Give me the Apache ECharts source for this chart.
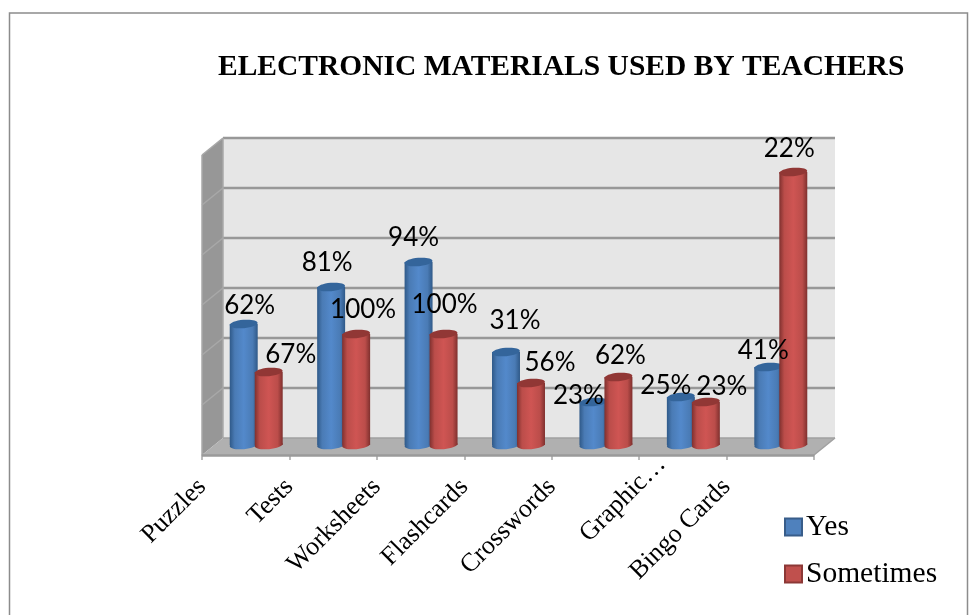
<!DOCTYPE html>
<html>
<head>
<meta charset="utf-8">
<style>html,body{margin:0;padding:0;background:#fff}#chart{width:970px;height:615px}</style>
<script src="https://cdn.jsdelivr.net/npm/echarts@6/dist/echarts.min.js"></script>
</head>
<body>
<div id="chart"></div>
<script>
// Survey counts and the share labels printed above each cylinder
const categories = ['Puzzles', 'Tests', 'Worksheets', 'Flashcards', 'Crosswords', 'Graphic…', 'Bingo Cards'];
const yesValues = [12.1, 15.8, 18.3, 9.3, 4.3, 4.8, 7.8];
const sometimesValues = [7.3, 11.1, 11.1, 6.2, 6.8, 4.3, 27.3];
const yesShares = ['62%', '81%', '94%', '31%', '23%', '25%', '41%'];
const sometimesShares = ['67%', '100%', '100%', '56%', '62%', '23%', '22%'];
const axisTickLabels = categories.concat(['']);

// Hand-placed label nudges, relative to each cylinder's top centre
const yesNudge = [[6, -18], [-4, -24], [-5, -24], [9, -31], [-15, -6], [-15, -11], [-5, -16]];
const sometimesNudge = [[22, -17], [7, -24], [1, -29], [19, -20], [2, -21], [16, -15], [-4, -23]];

// Oblique projection of the chart box
const WALL_DX = 21, WALL_DY = -17;
const BAR_DX = 10.5, BAR_DY = -10;
const VALUE_MAX = 30, VALUE_STEP = 5;

function cylinderGradient(edge, mid, light) {
  return {
    type: 'linear', x: 0, y: 0, x2: 1, y2: 0,
    colorStops: [
      { offset: 0, color: edge }, { offset: 0.18, color: mid },
      { offset: 0.5, color: light }, { offset: 0.82, color: mid }, { offset: 1, color: edge }
    ]
  };
}

function cylinder(shift, palette, nudges, shares) {
  return function (params, api) {
    const i = api.value(0);
    const band = api.size([1, 0])[0];
    const width = band * 0.32;
    const base = api.coord([i, 0]);
    const top = api.coord([i, api.value(1)]);
    const cx = base[0] + BAR_DX + shift * band;
    const by = base[1] + BAR_DY;
    const ty = top[1] + BAR_DY;
    const ry = 4.2, tilt = -0.09;
    const body = cylinderGradient(palette.edge, palette.mid, palette.light);
    return {
      type: 'group',
      children: [
        { type: 'ellipse', rotation: -tilt, x: cx, y: by,
          shape: { cx: 0, cy: 0, rx: width / 2, ry: ry }, style: { fill: body } },
        { type: 'rect', shape: { x: cx - width / 2, y: ty, width: width, height: by - ty }, style: { fill: body } },
        { type: 'ellipse', rotation: -tilt, x: cx, y: ty,
          shape: { cx: 0, cy: 0, rx: width / 2, ry: ry }, style: { fill: palette.cap } },
        { type: 'text', z2: 100, x: cx + nudges[i][0], y: ty + nudges[i][1],
          style: { text: shares[i], fill: '#000', font: '26px Lato', align: 'center', verticalAlign: 'middle' } }
      ]
    };
  };
}

// Back wall, side wall, floor and their gridlines
function renderBox(params, api) {
  const sys = params.coordSys;
  const left = sys.x, right = sys.x + sys.width;
  const bottom = api.coord([0, 0])[1], top = api.coord([0, VALUE_MAX])[1];
  const poly = (points, fill) => ({ type: 'polygon', shape: { points }, style: { fill } });
  const line = (x1, y1, x2, y2, stroke, lineWidth) => ({
    type: 'line', shape: { x1, y1, x2, y2 }, style: { stroke, lineWidth }
  });
  const children = [
    poly([[left + WALL_DX, top + WALL_DY], [right + WALL_DX, top + WALL_DY], [right + WALL_DX, bottom + WALL_DY], [left + WALL_DX, bottom + WALL_DY]], '#e6e6e6'),
    poly([[left, top], [left + WALL_DX, top + WALL_DY], [left + WALL_DX, bottom + WALL_DY], [left, bottom]], '#979797'),
    poly([[left, bottom], [left + WALL_DX, bottom + WALL_DY], [right + WALL_DX, bottom + WALL_DY], [right, bottom]], '#b0b0b0')
  ];
  for (let v = VALUE_STEP; v <= VALUE_MAX; v += VALUE_STEP) {
    const y = api.coord([0, v])[1];
    children.push(line(left + WALL_DX, y + WALL_DY, right + WALL_DX, y + WALL_DY, '#989898', 2.5));
    children.push(line(left, y, left + WALL_DX, y + WALL_DY, '#a8a8a8', 1.5));
  }
  children.push(line(left + WALL_DX, bottom + WALL_DY, right + WALL_DX, bottom + WALL_DY, '#a0a0a0', 1.5));
  children.push(line(left + WALL_DX, top + WALL_DY, left + WALL_DX, bottom + WALL_DY, '#a8a8a8', 1.5));
  children.push(line(right, bottom, right + WALL_DX, bottom + WALL_DY, '#a0a0a0', 1.5));
  children.push(line(left, top, left, bottom, '#a8a8a8', 1.5));
  children.push(line(left, bottom + 0.5, right, bottom + 0.5, '#9a9a9a', 2.5));
  return { type: 'group', children };
}

const BLUE = { edge: '#2f5988', mid: '#4a7bb5', light: '#5389cb', cap: '#34659b' };
const RED = { edge: '#7f302e', mid: '#bb4d4a', light: '#cf5553', cap: '#913735' };

const chart = echarts.init(document.getElementById('chart'), null, { renderer: 'canvas' });
chart.setOption({
  animation: false,
  backgroundColor: '#fff',
  title: {
    text: 'ELECTRONIC MATERIALS USED BY TEACHERS',
    left: 213, top: 47,
    textStyle: { fontFamily: 'Liberation Serif', fontWeight: 'bold', fontSize: 29.5, color: '#000' }
  },
  graphic: [{
    type: 'rect', silent: true,
    shape: { x: 9.5, y: 13, width: 958, height: 640 },
    style: { fill: 'none', stroke: '#8c8c8c', lineWidth: 1.5 }
  }],
  legend: {
    orient: 'vertical', left: 779, top: 507,
    data: ['Yes', 'Sometimes'],
    icon: 'rect', itemWidth: 17, itemHeight: 17, itemGap: 17,
    textStyle: { fontFamily: 'Liberation Serif', fontSize: 29.5, color: '#000', padding: [0, 0, 0, -1] }
  },
  grid: { left: 202, right: 156, top: 155, bottom: 160 },
  xAxis: [
    { type: 'category', data: categories, boundaryGap: true, show: false },
    {
      type: 'category', data: axisTickLabels, boundaryGap: false, position: 'bottom',
      axisLine: { lineStyle: { color: '#a6a6a6', width: 1.5 } },
      axisTick: { show: true, length: 5, lineStyle: { color: '#a6a6a6', width: 1.5 }, alignWithLabel: true },
      axisLabel: {
        interval: 0, rotate: 45, margin: 28, showMinLabel: true, showMaxLabel: true,
        fontFamily: 'Liberation Serif', fontSize: 26, color: '#000',
        // The truncated name runs further up past its tick than the others
        formatter: (name) => name.endsWith('…') ? '{overrun|' + name + '}' : name,
        rich: {
          overrun: { fontFamily: 'Liberation Serif', fontSize: 26, color: '#000', padding: [0, -32, 0, 0] }
        }
      }
    }
  ],
  yAxis: { type: 'value', min: 0, max: VALUE_MAX, interval: VALUE_STEP, show: false },
  series: [
    { type: 'custom', silent: true, renderItem: renderBox, data: [[0, 0]], z: 1 },
    {
      name: 'Yes', type: 'custom', z: 2, itemStyle: { color: '#4f81bd', borderColor: '#385d8a', borderWidth: 1 },
      renderItem: cylinder(-0.143, BLUE, yesNudge, yesShares),
      data: yesValues.map((v, i) => [i, v])
    },
    {
      name: 'Sometimes', type: 'custom', z: 2, itemStyle: { color: '#c0504d', borderColor: '#8c3836', borderWidth: 1 },
      renderItem: cylinder(0.143, RED, sometimesNudge, sometimesShares),
      data: sometimesValues.map((v, i) => [i, v])
    }
  ]
});
</script>
</body>
</html>
